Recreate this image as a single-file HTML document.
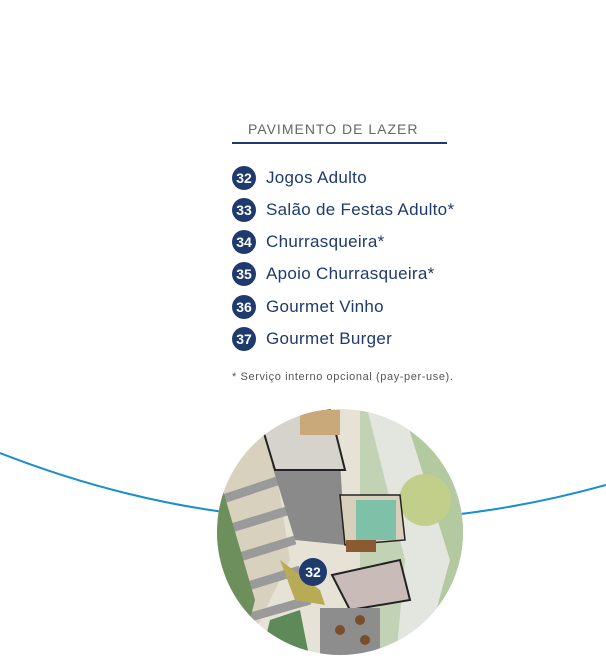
<!DOCTYPE html>
<html><head><meta charset="utf-8"><style>
body{margin:0;width:606px;height:661px;background:#fff;position:relative;overflow:hidden;font-family:"Liberation Sans",sans-serif}
.t{position:absolute;left:248px;top:121px;font-size:14px;color:#666;letter-spacing:1px}
.ln{position:absolute;left:232px;top:142px;width:215px;height:2px;background:#1e3a6e}
.it{position:absolute;left:232px;height:24px;display:flex;align-items:center;font-size:17px;color:#1e3a6e;letter-spacing:0.3px}
.b{width:24px;height:24px;border-radius:50%;background:#1e3a6e;color:#fff;font-weight:bold;font-size:14px;display:flex;align-items:center;justify-content:center;margin-right:10px;letter-spacing:0}
.n{position:absolute;left:232px;top:371px;font-size:11px;color:#555;letter-spacing:0.6px}
svg{position:absolute;left:0;top:0}
</style></head><body>
<div class="t">PAVIMENTO DE LAZER</div><div class="ln"></div>
<div class="it" style="top:166px"><div class="b">32</div>Jogos Adulto</div>
<div class="it" style="top:198px"><div class="b">33</div>Salão de Festas Adulto*</div>
<div class="it" style="top:230px"><div class="b">34</div>Churrasqueira*</div>
<div class="it" style="top:262px"><div class="b">35</div>Apoio Churrasqueira*</div>
<div class="it" style="top:295px"><div class="b">36</div>Gourmet Vinho</div>
<div class="it" style="top:327px"><div class="b">37</div>Gourmet Burger</div>
<div class="n">* Serviço interno opcional (pay-per-use).</div>
<svg width="606" height="661">
<defs><clipPath id="c"><circle cx="340" cy="532" r="123"/></clipPath></defs>
<path d="M0,453 Q300,570 606,485" fill="none" stroke="#1a8fd0" stroke-width="2"/>
<g clip-path="url(#c)">
<rect x="210" y="400" width="270" height="270" fill="#e6e2d6"/>
<rect x="360" y="400" width="120" height="270" fill="#c2d2b4"/>
<polygon points="395,400 480,400 480,670 420,670" fill="#b3c9a0"/>
<polygon points="365,400 400,400 450,560 420,670 395,670 405,560" fill="#e2e6df"/>
<circle cx="425" cy="500" r="26" fill="#c2cf8a"/>
<polygon points="210,470 270,430 290,560 240,661 210,661" fill="#d8d1bd"/>
<g stroke="#9a9a9a" stroke-width="9"><line x1="220" y1="500" x2="280" y2="480"/><line x1="225" y1="530" x2="290" y2="510"/><line x1="230" y1="560" x2="295" y2="540"/><line x1="235" y1="590" x2="300" y2="570"/><line x1="240" y1="620" x2="310" y2="600"/></g>
<polygon points="210,520 240,660 210,661" fill="#1e5ea8"/>
<polygon points="220,480 255,600 245,640 215,560" fill="#6d8f5c"/>
<polygon points="270,620 300,610 310,661 260,661" fill="#5e8a5a"/>
<polygon points="272,465 340,460 345,545 295,540" fill="#8a8a8a"/>
<polygon points="260,420 330,410 345,470 275,470" fill="#d5d3cc" stroke="#222" stroke-width="2"/>
<polygon points="340,495 400,495 405,540 345,545" fill="#d9d0bb" stroke="#222" stroke-width="1.5"/>
<rect x="356" y="500" width="40" height="40" fill="#7ec0a8"/>
<rect x="346" y="540" width="30" height="12" fill="#8a5a30"/>
<polygon points="332,575 400,560 410,600 350,610" fill="#c9bbb8" stroke="#222" stroke-width="2"/>
<polygon points="280,560 320,590 325,605 295,600" fill="#b7ac55"/>
<rect x="320" y="608" width="60" height="50" fill="#8d8d8d"/>
<circle cx="340" cy="630" r="5" fill="#7a4e28"/><circle cx="360" cy="620" r="5" fill="#7a4e28"/><circle cx="365" cy="640" r="5" fill="#7a4e28"/>
<rect x="300" y="410" width="40" height="25" fill="#c9a97a"/>
</g>
<circle cx="313" cy="572" r="14" fill="#1e3a6e"/>
<text x="313" y="577" text-anchor="middle" fill="#fff" font-weight="bold" font-size="14" font-family="Liberation Sans,sans-serif">32</text>
</svg>
</body></html>
